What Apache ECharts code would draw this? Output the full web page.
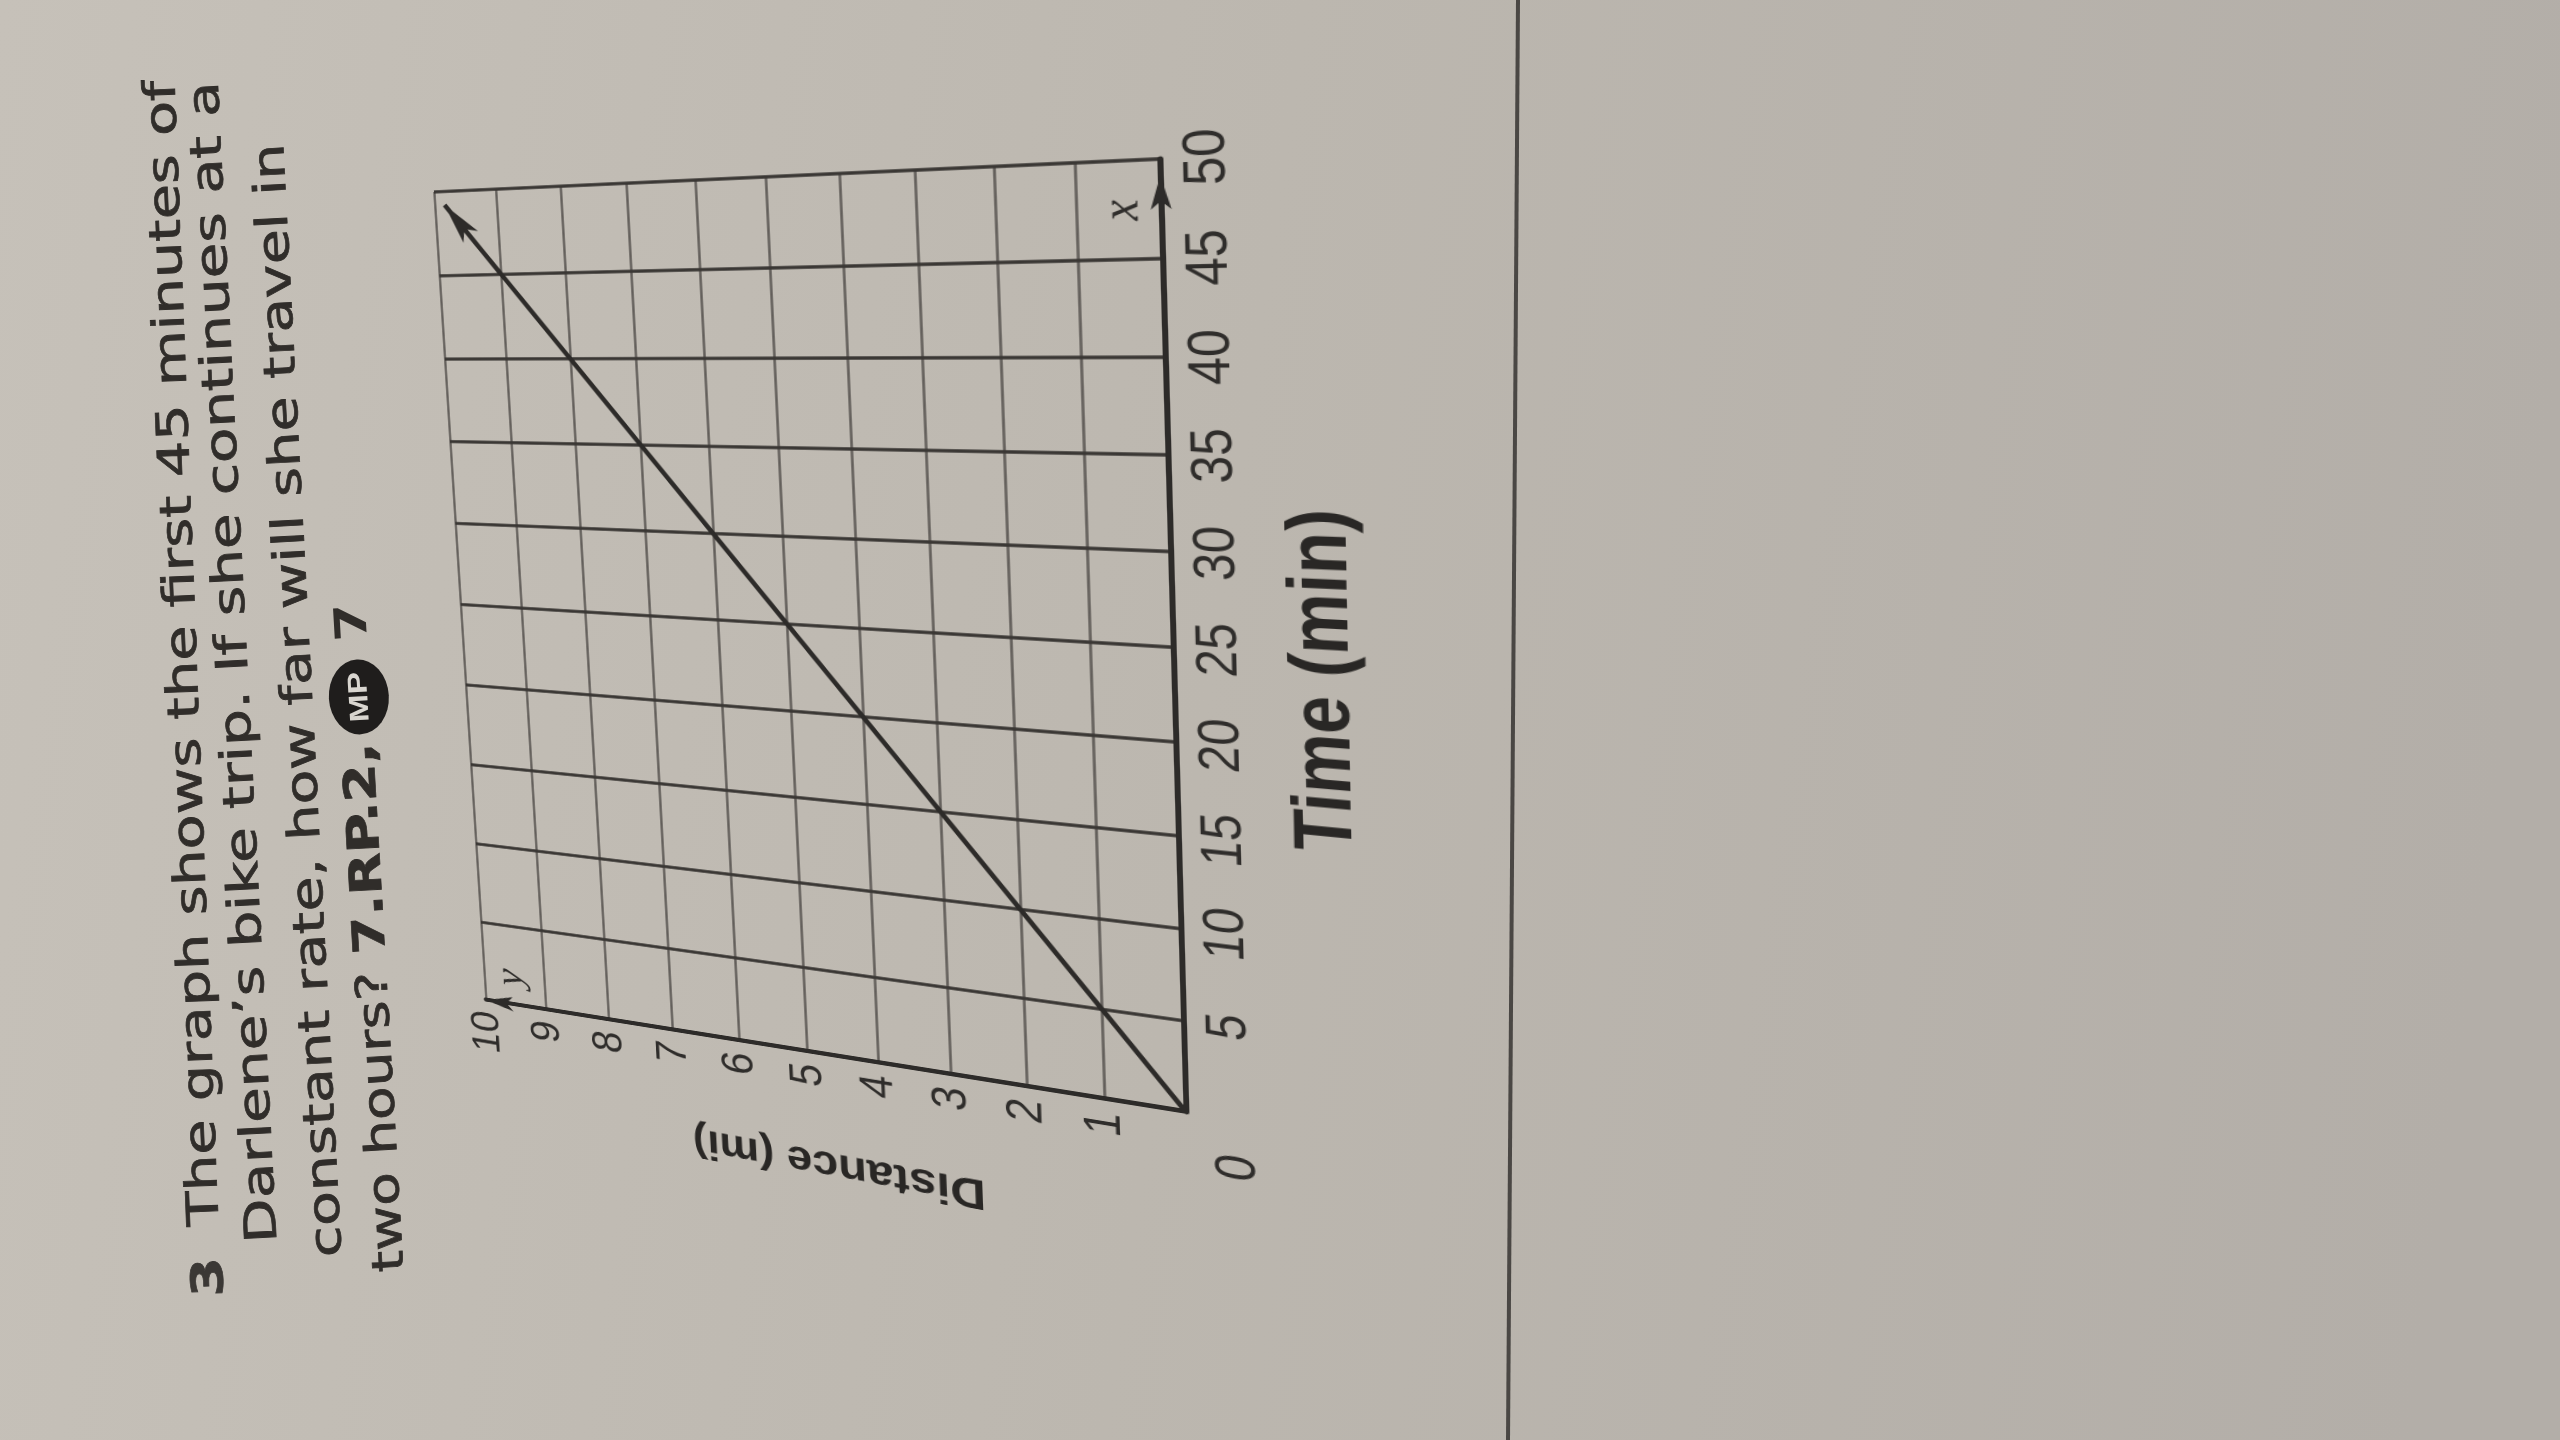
<!DOCTYPE html>
<html>
<head>
<meta charset="utf-8">
<script src="https://cdn.jsdelivr.net/npm/echarts@6/dist/echarts.min.js"></script>
<style>
html,body{margin:0;padding:0;width:2560px;height:1440px;overflow:hidden;background:#bcb7b0;}
#page{position:absolute;left:0;top:0;width:2560px;height:1440px;}
#chart{position:absolute;left:0;top:0;width:1200px;height:965px;transform-origin:0 0;}
</style>
</head>
<body>
<div id="page"></div>
<div id="chart"></div>
<script>
// ---------------- data ----------------
const timeTicks = [0, 5, 10, 15, 20, 25, 30, 35, 40, 45, 50];
const distanceTicks = [0, 1, 2, 3, 4, 5, 6, 7, 8, 9, 10];
const lineTime = [0, 45, 49.2];          // minutes
const lineDistance = [0, 9, 9.84];       // miles
const xAxisName = 'Time (min)';
const yAxisName = 'Distance (mi)';
const xVar = 'x';
const yVar = 'y';
const questionNumber = '3';
const questionLines = [
  'The graph shows the first 45 minutes of',
  "Darlene\u2019s bike trip. If she continues at a",
  'constant rate, how far will she travel in'
];
const lastLineRegular = 'two hours? ';
const lastLineBold = '7.RP.2,';
const badgeText = 'MP';
const badgeNumber = '7';

// ---------------- layout (upright chart, then mapped onto the photo plane) ----------------
const GRID = {left: 190, top: 60, width: 950, height: 705};
const SCREEN = {o: [1186, 1112], t: [1160, 159], d: [486, 1000], td: [434, 192]};
const INK = '#2d2b29';

// homography helpers
function adj(m){return [
  m[4]*m[8]-m[5]*m[7], m[2]*m[7]-m[1]*m[8], m[1]*m[5]-m[2]*m[4],
  m[5]*m[6]-m[3]*m[8], m[0]*m[8]-m[2]*m[6], m[2]*m[3]-m[0]*m[5],
  m[3]*m[7]-m[4]*m[6], m[1]*m[6]-m[0]*m[7], m[0]*m[4]-m[1]*m[3]];}
function mm(a,b){const c=[];for(let i=0;i<3;i++)for(let j=0;j<3;j++){let s=0;for(let k=0;k<3;k++)s+=a[3*i+k]*b[3*k+j];c[3*i+j]=s;}return c;}
function mv(m,v){return [m[0]*v[0]+m[1]*v[1]+m[2]*v[2], m[3]*v[0]+m[4]*v[1]+m[5]*v[2], m[6]*v[0]+m[7]*v[1]+m[8]*v[2]];}
function basis(p){const m=[p[0][0],p[1][0],p[2][0],p[0][1],p[1][1],p[2][1],1,1,1];const v=mv(adj(m),[p[3][0],p[3][1],1]);return mm(m,[v[0],0,0,0,v[1],0,0,0,v[2]]);}
function projection(src,dst){return mm(basis(dst),adj(basis(src)));}

const gx0 = GRID.left, gx1 = GRID.left + GRID.width, gy0 = GRID.top, gy1 = GRID.top + GRID.height;
const H = projection([[gx0,gy1],[gx1,gy1],[gx0,gy0],[gx1,gy0]], [SCREEN.o, SCREEN.t, SCREEN.d, SCREEN.td]);
for (let i = 0; i < 9; i++) H[i] = H[i] / H[8];
document.getElementById('chart').style.transform =
  'matrix3d(' + [H[0],H[3],0,H[6], H[1],H[4],0,H[7], 0,0,1,0, H[2],H[5],0,H[8]].join(',') + ')';

// ---------------- chart ----------------
const chart = echarts.init(document.getElementById('chart'), null, {renderer: 'canvas', devicePixelRatio: 2});
const pts = lineTime.map((t, i) => [t, lineDistance[i]]);
const n = pts.length;
chart.setOption({
  animation: false,
  backgroundColor: 'transparent',
  grid: {left: GRID.left, top: GRID.top, width: GRID.width, height: GRID.height, show: false, containLabel: false, outerBoundsMode: 'none'},
  xAxis: {
    type: 'value', min: timeTicks[0], max: timeTicks[timeTicks.length - 1], interval: timeTicks[1] - timeTicks[0],
    name: xAxisName, nameLocation: 'middle', nameGap: 90, nameMoveOverlap: false,
    nameTextStyle: {fontFamily: 'Liberation Sans', fontWeight: 'bold', fontSize: 66, color: '#292725', padding: [0, 50, 0, 0]},
    axisLine: {show: true, onZero: false, lineStyle: {color: INK, width: 5}, symbol: ['none', 'arrow'], symbolSize: [13, 32], symbolOffset: [0, -16]},
    axisTick: {show: false},
    axisLabel: {showMinLabel: false, margin: 15, fontSize: 48, fontFamily: 'Liberation Sans', color: '#2f2d2b', hideOverlap: false},
    splitLine: {show: true, lineStyle: {color: '#3a3734', width: 3.5}}
  },
  yAxis: {
    type: 'value', min: distanceTicks[0], max: distanceTicks[distanceTicks.length - 1], interval: distanceTicks[1] - distanceTicks[0],
    name: yAxisName, nameLocation: 'middle', nameRotate: 90, nameGap: 102, nameMoveOverlap: false,
    nameTextStyle: {fontFamily: 'Liberation Sans', fontWeight: 'bold', fontSize: 47, color: '#292725', padding: [0, 44, 0, 0]},
    axisLine: {show: true, onZero: false, lineStyle: {color: INK, width: 5}, symbol: ['none', 'arrow'], symbolSize: [13, 32]},
    axisTick: {show: false},
    axisLabel: {showMinLabel: false, margin: 14, fontSize: 46, fontFamily: 'Liberation Sans', color: '#2f2d2b', hideOverlap: false},
    splitLine: {show: true, lineStyle: {color: '#625e5a', width: 2.5}}
  },
  series: [
    {type: 'line', data: pts, symbol: 'none', showSymbol: false, lineStyle: {color: INK, width: 5}, z: 5, silent: true},
    {type: 'lines', coordinateSystem: 'cartesian2d', z: 6, silent: true,
     data: [{coords: [pts[n - 2], pts[n - 1]]}],
     symbol: ['none', 'arrow'], symbolSize: [0, [16, 46]],
     lineStyle: {color: INK, width: 5, opacity: 1, curveness: 0}}
  ]
});
const p0 = chart.convertToPixel({gridIndex: 0}, [0, 0]);
const px = chart.convertToPixel({gridIndex: 0}, [47.5, 0.45]);
const py = chart.convertToPixel({gridIndex: 0}, [1.7, 9.55]);
chart.setOption({
  graphic: {elements: [
    {type: 'text', x: p0[0] - 50, y: p0[1] + 44, style: {text: '0', fontSize: 48, fontFamily: 'Liberation Sans', fill: '#2f2d2b', align: 'center', verticalAlign: 'middle', textAlign: 'center', textVerticalAlign: 'middle'}},
    {type: 'text', x: px[0], y: px[1], style: {text: xVar, fontSize: 46, fontStyle: 'italic', fontFamily: 'Liberation Serif', fill: '#2f2d2b', align: 'center', verticalAlign: 'middle', textAlign: 'center', textVerticalAlign: 'middle'}},
    {type: 'text', x: py[0], y: py[1], style: {text: yVar, fontSize: 46, fontStyle: 'italic', fontFamily: 'Liberation Serif', fill: '#2f2d2b', align: 'center', verticalAlign: 'middle', textAlign: 'center', textVerticalAlign: 'middle'}}
  ]}
});

// ---------------- page: paper, question text, margin rule ----------------
const FS = 44, FF = '"DejaVu Sans"', TXT = '#302d2a';
const mctx = document.createElement('canvas').getContext('2d');
function textW(str, weight){ mctx.font = weight + ' ' + FS + 'px ' + FF; return mctx.measureText(str).width; }
const LINE_POS = [
  {x: 207, y: 1226, len: 1146, tilt: 2.2},
  {x: 265, y: 1243, len: 1163, tilt: 2.9},
  {x: 330, y: 1257, len: 1115, tilt: 3.0},
  {x: 392, y: 1272, len: 530, tilt: 3.3}
];
const scales = questionLines.map((s, i) => LINE_POS[i].len / textW(s, 'normal'));
const s4 = LINE_POS[3].len / (textW(lastLineRegular, 'normal') + textW(lastLineBold, 'bold'));
function tstyle(text, weight, extra){ return Object.assign({text: text, fontSize: FS, fontFamily: 'DejaVu Sans', fontWeight: weight, fill: TXT, stroke: TXT, lineWidth: 0.7, align: 'left', verticalAlign: 'middle', textAlign: 'left', textVerticalAlign: 'middle'}, extra || {}); }
const groups = questionLines.map((s, i) => {
  const c = [{type: 'text', x: 0, y: 0, style: tstyle(s, 'normal')}];
  if (i === 0) c.push({type: 'text', x: -71 / scales[0], y: 2, style: tstyle(questionNumber, 'bold', {fill: '#3b3835', stroke: '#3b3835'})});
  return {type: 'group', x: LINE_POS[i].x, y: LINE_POS[i].y, rotation: (90 + LINE_POS[i].tilt) * Math.PI / 180, scaleX: scales[i], scaleY: 1, children: c};
});
const L4 = LINE_POS[3];
groups.push({type: 'group', x: L4.x, y: L4.y, rotation: (90 + L4.tilt) * Math.PI / 180, scaleX: s4, scaleY: 1, children: [
  {type: 'text', x: 0, y: 0, style: tstyle('{a|' + lastLineRegular + '}{b|' + lastLineBold + '}', 'normal', {rich: {
    a: {fontSize: FS, fontFamily: 'DejaVu Sans', fill: TXT, stroke: TXT, lineWidth: 0.7},
    b: {fontSize: FS, fontFamily: 'DejaVu Sans', fontWeight: 'bold', fill: TXT}}})},
  {type: 'circle', x: 576 / s4, y: 0, shape: {cx: 0, cy: 0, r: 30}, style: {fill: '#1f1d1c'}},
  {type: 'text', x: 576 / s4, y: 1, style: {text: badgeText, fontSize: 27, fontFamily: 'Liberation Sans', fontWeight: 'bold', fill: '#d9d6d0', align: 'center', verticalAlign: 'middle', textAlign: 'center', textVerticalAlign: 'middle'}},
  {type: 'text', x: 632 / s4, y: 0, style: tstyle(badgeNumber, 'bold', {lineWidth: 0})}
]});

const page = echarts.init(document.getElementById('page'), null, {renderer: 'canvas'});
page.setOption({
  animation: false,
  backgroundColor: new echarts.graphic.LinearGradient(0, 0, 1, 0.25, [
    {offset: 0, color: '#c6c1b9'}, {offset: 0.5, color: '#bcb7af'}, {offset: 1, color: '#b3aea8'}]),
  graphic: {elements: [
    {type: 'line', shape: {x1: 1518, y1: 0, x2: 1508, y2: 1440}, style: {stroke: '#4a4744', lineWidth: 4}},
    ...groups
  ]}
});
</script>
</body>
</html>
